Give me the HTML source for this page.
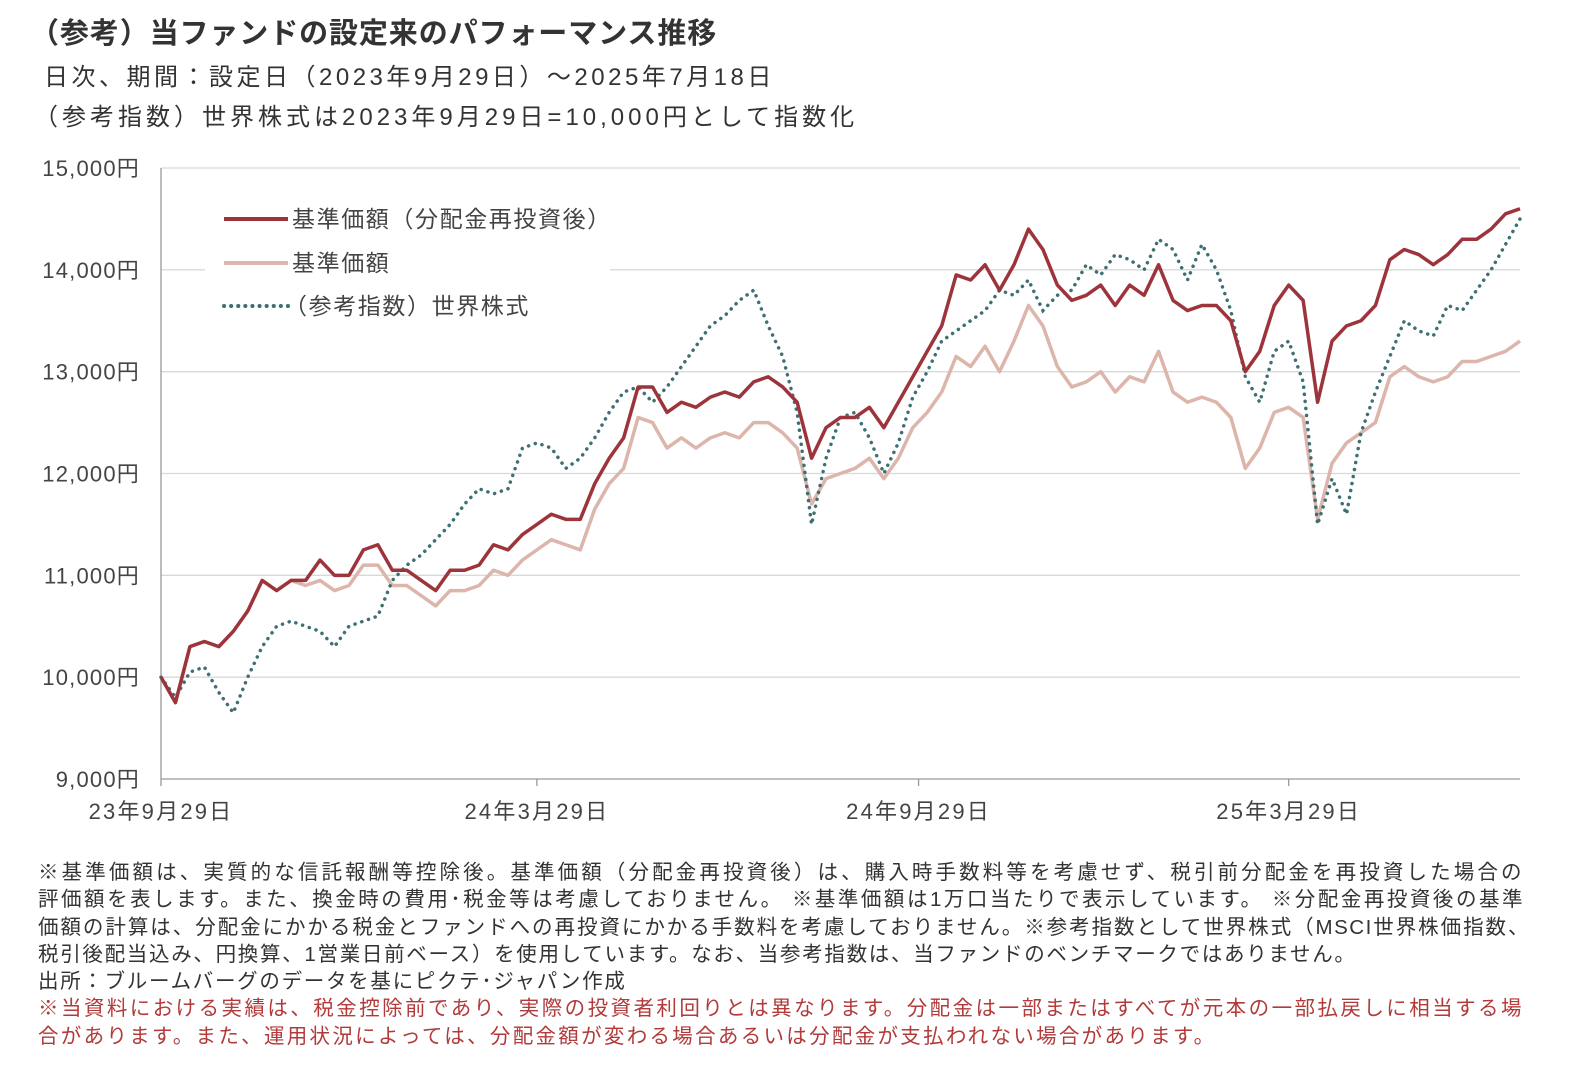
<!DOCTYPE html>
<html><head><meta charset="utf-8">
<style>
body{margin:0;background:#fff;width:1575px;height:1087px;overflow:hidden;font-family:"Liberation Sans","Noto Sans CJK JP",sans-serif;color:#333}
.t{position:absolute;white-space:nowrap}
#notes{position:absolute;left:38px;top:859px;font-size:20.5px;line-height:27.3px;color:#333;white-space:nowrap}
#notes div{height:27.3px}
.j{text-align:justify;text-align-last:justify;letter-spacing:1.5px}
.red{color:#b23a3a}
</style></head><body>
<div class="t" style="left:30px;top:10px;font-size:29px;font-weight:bold;color:#333;letter-spacing:0.9px">（参考）当ファンドの設定来のパフォーマンス推移</div>
<div class="t" style="left:44px;top:57px;font-size:24px;letter-spacing:3.5px">日次、期間：設定日（2023年9月29日）～2025年7月18日</div>
<div class="t" style="left:34px;top:97px;font-size:24px;letter-spacing:4px">（参考指数）世界株式は2023年9月29日=10,000円として指数化</div>
<svg id="chart" width="1575" height="840" style="position:absolute;left:0;top:0"></svg>
<div id="notes">
<div class="j" style="width:1485px">※基準価額は、実質的な信託報酬等控除後。基準価額（分配金再投資後）は、購入時手数料等を考慮せず、税引前分配金を再投資した場合の</div>
<div class="j" style="width:1486px">評価額を表します。また、換金時の費用･税金等は考慮しておりません。 ※基準価額は1万口当たりで表示しています。 ※分配金再投資後の基準</div>
<div class="j" style="width:1492px">価額の計算は、分配金にかかる税金とファンドへの再投資にかかる手数料を考慮しておりません。※参考指数として世界株式（MSCI世界株価指数、</div>
<div style="letter-spacing:1.7px">税引後配当込み、円換算、1営業日前ベース）を使用しています。なお、当参考指数は、当ファンドのベンチマークではありません。</div>
<div style="letter-spacing:1.7px">出所：ブルームバーグのデータを基にピクテ･ジャパン作成</div>
<div class="j red" style="width:1485px">※当資料における実績は、税金控除前であり、実際の投資者利回りとは異なります。分配金は一部またはすべてが元本の一部払戻しに相当する場</div>
<div class="red" style="letter-spacing:2.3px">合があります。また、運用状況によっては、分配金額が変わる場合あるいは分配金が支払われない場合があります。</div>
</div>
<script>
const weeks=94;
const yTicks=[9000,10000,11000,12000,13000,14000,15000];
const yTickLabels=["9,000円","10,000円","11,000円","12,000円","13,000円","14,000円","15,000円"];
const xTickWeeks=[0,26,52.4,78];
const xTickLabels=["23年9月29日","24年3月29日","24年9月29日","25年3月29日"];
const reinvest=[10000,9750,10300,10350,10300,10450,10650,10950,10850,10950,10950,11150,11000,11000,11250,11300,11050,11050,10950,10850,11050,11050,11100,11300,11250,11400,11500,11600,11550,11550,11900,12150,12350,12850,12850,12600,12700,12650,12750,12800,12750,12900,12950,12850,12700,12150,12450,12550,12550,12650,12450,12700,12950,13200,13450,13950,13900,14050,13800,14050,14400,14200,13850,13700,13750,13850,13650,13850,13750,14050,13700,13600,13650,13650,13500,13000,13200,13650,13850,13700,12700,13300,13450,13500,13650,14100,14200,14150,14050,14150,14300,14300,14400,14550,14600];
const nav=[10000,9750,10300,10350,10300,10450,10650,10950,10850,10950,10900,10950,10850,10900,11100,11100,10900,10900,10800,10700,10850,10850,10900,11050,11000,11150,11250,11350,11300,11250,11650,11900,12050,12550,12500,12250,12350,12250,12350,12400,12350,12500,12500,12400,12250,11700,11950,12000,12050,12150,11950,12150,12450,12600,12800,13150,13050,13250,13000,13300,13650,13450,13050,12850,12900,13000,12800,12950,12900,13200,12800,12700,12750,12700,12550,12050,12250,12600,12650,12550,11550,12100,12300,12400,12500,12950,13050,12950,12900,12950,13100,13100,13150,13200,13300];
const world=[10000,9800,10050,10100,9850,9650,10000,10300,10500,10550,10500,10450,10300,10500,10550,10600,10950,11100,11200,11350,11500,11700,11850,11800,11850,12250,12300,12250,12050,12150,12350,12600,12800,12850,12700,12850,13050,13250,13450,13550,13700,13800,13450,13150,12600,11500,12150,12550,12600,12350,12000,12300,12750,13000,13300,13400,13500,13600,13800,13750,13900,13600,13750,13800,14050,13950,14150,14100,14000,14300,14200,13900,14250,14000,13600,12950,12700,13200,13300,12900,11500,11950,11600,12400,12800,13150,13500,13400,13350,13650,13600,13800,14000,14250,14500];
const L=161,R=1520,T=168,B=779;
const x=w=>L+(R-L)*w/weeks;
const y=v=>B-(B-T)*(v-9000)/6000;
const svg=document.getElementById('chart');
const NS='http://www.w3.org/2000/svg';
function mk(tag,attrs){const e=document.createElementNS(NS,tag);for(const k in attrs)e.setAttribute(k,attrs[k]);svg.appendChild(e);return e;}
yTicks.forEach((v,i)=>{
  if(i>0){const g=mk('line',{x1:L,x2:R,y1:y(v),y2:y(v),stroke:'#d9d9d9','stroke-width':1.3});
  
  }
  const t=mk('text',{x:140,y:y(v)+8,'text-anchor':'end','font-size':22,'letter-spacing':'1.2',fill:'#444'});
  t.textContent=yTickLabels[i];
  
  
});
const ax=mk('line',{x1:L,x2:L,y1:T,y2:B,stroke:'#999','stroke-width':1.3});


const bx=mk('line',{x1:L,x2:R,y1:B,y2:B,stroke:'#999','stroke-width':1.3});


xTickWeeks.forEach((w,i)=>{
  const tk=mk('line',{x1:x(w),x2:x(w),y1:B,y2:B+7,stroke:'#999','stroke-width':1.3});
  
  
  const t=mk('text',{x:x(w),y:B+40,'text-anchor':'middle','font-size':22,'letter-spacing':'2.2',fill:'#444'});
  t.textContent=xTickLabels[i];
  
  
});
const lb=mk('rect',{x:205,y:196,width:405,height:130,fill:'#fff'});


function pts(arr){return arr.map((v,i)=>x(i)+','+y(v)).join(' ');}
const s1=mk('polyline',{points:pts(nav),fill:'none',stroke:'#dcb5ab','stroke-width':3.5,'stroke-linejoin':'round'});


const s2=mk('polyline',{points:pts(world),fill:'none',stroke:'#3d6f73','stroke-width':3.5,'stroke-dasharray':'0.1 7','stroke-linecap':'round'});


const s3=mk('polyline',{points:pts(reinvest),fill:'none',stroke:'#9e343b','stroke-width':3.5,'stroke-linejoin':'round'});


const leg=[['基準価額（分配金再投資後）','#9e343b',null,219,'legend-reinvested'],['基準価額','#dcb5ab',null,263,'legend-nav'],['（参考指数）世界株式','#3d6f73','0.1 7',306,'legend-world']];
leg.forEach(l=>{
  const a={x1:224,x2:288,y1:l[3],y2:l[3],stroke:l[1],'stroke-width':4};
  if(l[2]){a['stroke-dasharray']=l[2];a['stroke-linecap']='round';}
  const ln=mk('line',a);
  
  
  const t=mk('text',{x:l[0].startsWith('（')?284:292,y:l[3]+8,'font-size':23,'letter-spacing':'1.6',fill:'#444'});
  t.textContent=l[0];
  
  
});
</script>
</body></html>
